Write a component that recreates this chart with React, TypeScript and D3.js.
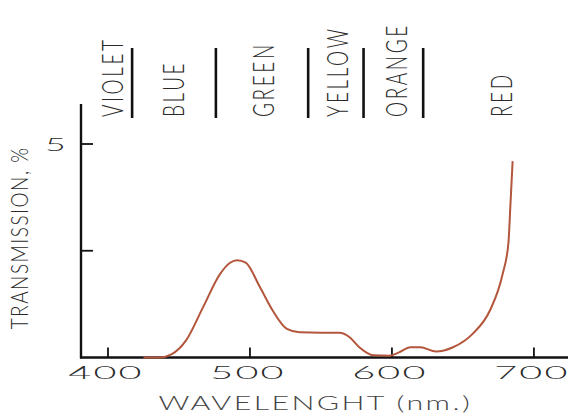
import * as d3 from 'd3';
import { useEffect, useRef } from 'react';

const WIDTH = 568;
const HEIGHT = 415;

// Transmission curve (wavelength nm -> %)
const WAVELENGTHS = [
    425, 436, 445, 455, 467, 479, 486, 491, 497, 507, 516, 526, 535, 550, 563, 570, 577, 587, 598, 605, 613, 620,
    631, 643, 657, 669, 678, 682, 683.5, 685,
];
const TRANSMISSION = [
    0, 0, 0.08, 0.4, 1.18, 1.96, 2.22, 2.28, 2.22, 1.65, 1.1, 0.67, 0.59, 0.58, 0.58, 0.48, 0.24, 0.05, 0.04, 0.12,
    0.24, 0.24, 0.14, 0.24, 0.56, 1.1, 1.96, 2.67, 3.61, 4.6,
];

// Colour bands along the top
const BAND_EDGES = [417, 476, 541, 580, 622];
const BAND_NAMES = ['VIOLET', 'BLUE', 'GREEN', 'YELLOW', 'ORANGE', 'RED'];
const BAND_CENTERS = [403, 446, 509, 561, 603, 677];

const X_TICKS = [400, 500, 600, 700];
const Y_TICKS = [2.5, 5];
const Y_TICK_LABELS = ['', '5'];

const X_LABEL = 'WAVELENGHT (nm.)';
const Y_LABEL = 'TRANSMISSION, %';

const FONT = 'Lato, "DejaVu Sans", sans-serif';
const INK = '#2b2b2b';
const STRETCH = 1.6; // the scanned figure is stretched sideways

const App = () => {
    const svgRef = useRef<SVGSVGElement | null>(null);

    useEffect(() => {
        if (!svgRef.current) return;
        const svg = d3.select(svgRef.current);
        svg.selectAll('*').remove();

        const axisX = 81;
        const axisY = 357.5;

        const xScale = d3.scaleLinear().domain([381, 724]).range([axisX, WIDTH]);
        const yScale = d3.scaleLinear().domain([0, 5]).range([axisY, 144]);

        svg.append('rect').attr('width', WIDTH).attr('height', HEIGHT).attr('fill', '#ffffff');

        // Band separators
        svg.append('g')
            .selectAll('line')
            .data(BAND_EDGES)
            .join('line')
            .attr('x1', (d) => xScale(d))
            .attr('x2', (d) => xScale(d))
            .attr('y1', 48)
            .attr('y2', 118)
            .attr('stroke', '#111')
            .attr('stroke-width', 2.6);

        // Band names, rotated
        svg.append('g')
            .selectAll('text')
            .data(BAND_NAMES)
            .join('text')
            .attr('transform', (_, i) => `translate(${xScale(BAND_CENTERS[i])},117) scale(${STRETCH},1) rotate(-90)`)
            .attr('dy', '0.36em')
            .attr('text-anchor', 'start')
            .style('font-family', FONT)
            .style('font-weight', 300)
            .style('font-size', '19px')
            .style('letter-spacing', '2.6px')
            .attr('fill', INK)
            .text((d) => d);

        // Axes lines
        svg.append('line')
            .attr('x1', axisX)
            .attr('x2', axisX)
            .attr('y1', 104)
            .attr('y2', axisY + 1)
            .attr('stroke', '#111')
            .attr('stroke-width', 2.4);
        svg.append('line')
            .attr('x1', axisX - 1)
            .attr('x2', WIDTH)
            .attr('y1', axisY)
            .attr('y2', axisY)
            .attr('stroke', '#111')
            .attr('stroke-width', 2.4);

        // X ticks (pointing up) + labels
        const xt = svg
            .append('g')
            .selectAll('g')
            .data(X_TICKS)
            .join('g')
            .attr('transform', (d) => `translate(${xScale(d)},${axisY})`);
        xt.append('line').attr('y1', 0).attr('y2', -10).attr('stroke', '#111').attr('stroke-width', 1.8);
        xt.append('text')
            .attr('transform', `translate(-2,21) scale(2.2,1)`)
            .attr('text-anchor', 'middle')
            .style('font-family', FONT)
            .style('font-weight', 300)
            .style('font-size', '18px')
            .style('letter-spacing', '1px')
            .attr('fill', INK)
            .text((d) => String(d));

        // Y ticks (pointing right) + labels
        const yt = svg
            .append('g')
            .selectAll('g')
            .data(Y_TICKS)
            .join('g')
            .attr('transform', (d) => `translate(${axisX},${yScale(d)})`);
        yt.append('line').attr('x1', 0).attr('x2', 12).attr('stroke', '#111').attr('stroke-width', 1.8);
        yt.append('text')
            .attr('transform', `translate(-15,7) scale(2.0,1)`)
            .attr('text-anchor', 'end')
            .style('font-family', FONT)
            .style('font-weight', 300)
            .style('font-size', '18px')
            .attr('fill', INK)
            .text((_, i) => Y_TICK_LABELS[i]);

        // Axis titles
        svg.append('text')
            .attr('transform', `translate(${xScale(546)},410) scale(${STRETCH},1)`)
            .attr('text-anchor', 'middle')
            .style('font-family', FONT)
            .style('font-weight', 300)
            .style('font-size', '19px')
            .style('letter-spacing', '1.5px')
            .attr('fill', '#444')
            .text(X_LABEL);

        svg.append('text')
            .attr('transform', `translate(20,${yScale(2.8)}) scale(1.2,1) rotate(-90)`)
            .attr('dy', '0.36em')
            .attr('text-anchor', 'middle')
            .style('font-family', FONT)
            .style('font-weight', 300)
            .style('font-size', '19px')
            .style('letter-spacing', '1.5px')
            .attr('fill', INK)
            .text(Y_LABEL);

        // Transmission curve
        const points = WAVELENGTHS.map((w, i) => [w, TRANSMISSION[i]] as [number, number]);
        const line = d3
            .line<[number, number]>()
            .x((d) => xScale(d[0]))
            .y((d) => yScale(d[1]))
            .curve(d3.curveMonotoneX);

        svg.append('path')
            .datum(points)
            .attr('d', line)
            .attr('fill', 'none')
            .attr('stroke', '#b3563c')
            .attr('stroke-width', 2)
            .attr('stroke-linejoin', 'round');
    }, []);

    return (
        <svg
            ref={svgRef}
            width={WIDTH}
            height={HEIGHT}
            style={{ position: 'absolute', left: 0, top: 0, display: 'block' }}
        ></svg>
    );
};

export default App;
